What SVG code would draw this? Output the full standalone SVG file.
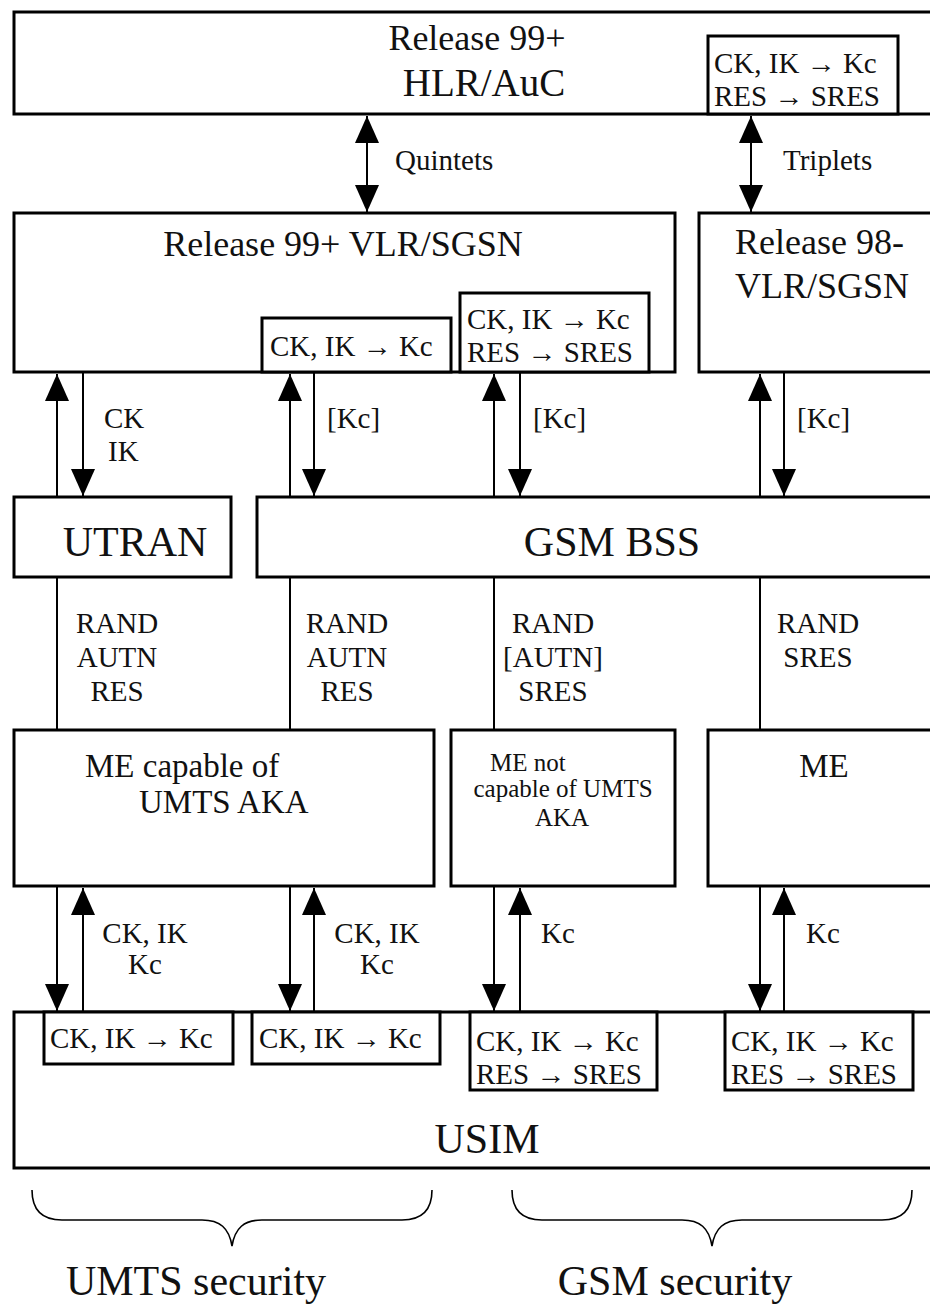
<svg xmlns="http://www.w3.org/2000/svg" width="930" height="1305" viewBox="0 0 930 1305">
<style>
.box{fill:#fff;stroke:#000;stroke-width:3}
.ln{stroke:#000;stroke-width:2;fill:none}
.br{stroke:#000;stroke-width:1.6;fill:none}
text{font-family:"Liberation Serif","Times New Roman",serif;fill:#111}
.t29{font-size:29px}
.t26{font-size:25px}
.t36{font-size:36px}
.t42{font-size:42px}
.m{text-anchor:middle}
.ar{font-weight:bold}
</style>
<defs>
<marker id="ah" markerUnits="userSpaceOnUse" markerWidth="28" markerHeight="26" refX="27" refY="12" orient="auto-start-reverse" viewBox="0 0 28 26">
<path d="M0,0 L27,12 L0,24 z" fill="#000"/>
</marker>
</defs>
<rect width="930" height="1305" fill="#fff"/>

<g id="hlr">
<rect class="box" x="14" y="12" width="930" height="102"/>
<text class="t36 m" x="477" y="50">Release 99+</text>
<text class="t42 m" x="484" y="96" style="font-size:39px">HLR/AuC</text>
</g>
<g id="hlr-conv">
<rect class="box" x="708" y="36" width="190" height="78"/>
<text class="t29" x="714" y="73">CK, IK <tspan class="ar">→</tspan> Kc</text>
<text class="t29" x="714" y="106">RES <tspan class="ar">→</tspan> SRES</text>
</g>

<g id="vlr99">
<rect class="box" x="14" y="213" width="661" height="159"/>
<text class="t36 m" x="343" y="256">Release 99+ VLR/SGSN</text>
</g>
<g id="vlr99-conv1">
<rect class="box" x="262" y="318" width="189" height="54"/>
<text class="t29" x="270" y="356">CK, IK <tspan class="ar">→</tspan> Kc</text>
</g>
<g id="vlr99-conv2">
<rect class="box" x="460" y="293" width="189" height="79"/>
<text class="t29" x="467" y="329">CK, IK <tspan class="ar">→</tspan> Kc</text>
<text class="t29" x="467" y="362">RES <tspan class="ar">→</tspan> SRES</text>
</g>
<g id="vlr98">
<rect class="box" x="699" y="213" width="250" height="159"/>
<text class="t36" x="735" y="254">Release 98-</text>
<text class="t36" x="735" y="298">VLR/SGSN</text>
</g>

<g id="utran">
<rect class="box" x="14" y="497" width="217" height="80"/>
<text class="t42 m" x="135" y="556">UTRAN</text>
</g>
<g id="bss">
<rect class="box" x="257" y="497" width="690" height="80"/>
<text class="t42 m" x="612" y="556">GSM BSS</text>
</g>

<g id="me-umts">
<rect class="box" x="14" y="730" width="420" height="156"/>
<text class="t36" x="85" y="777" style="font-size:33px">ME capable of</text>
<text class="t36" x="139" y="813" style="font-size:33px">UMTS AKA</text>
</g>
<g id="me-not">
<rect class="box" x="451" y="730" width="224" height="156"/>
<text class="t26" x="490" y="771">ME  not</text>
<text class="t26 m" x="563" y="797">capable of UMTS</text>
<text class="t26 m" x="562" y="826">AKA</text>
</g>
<g id="me">
<rect class="box" x="708" y="730" width="240" height="156"/>
<text class="t36 m" x="824" y="777" style="font-size:33px">ME</text>
</g>

<g id="usim">
<rect class="box" x="14" y="1012" width="934" height="156"/>
<text class="t42 m" x="487" y="1153">USIM</text>
</g>
<g id="usim-conv1">
<rect class="box" x="44" y="1012" width="189" height="52"/>
<text class="t29" x="50" y="1048">CK, IK <tspan class="ar">→</tspan> Kc</text>
</g>
<g id="usim-conv2">
<rect class="box" x="252" y="1012" width="188" height="52"/>
<text class="t29" x="259" y="1048">CK, IK <tspan class="ar">→</tspan> Kc</text>
</g>
<g id="usim-conv3">
<rect class="box" x="470" y="1012" width="187" height="78"/>
<text class="t29" x="476" y="1051">CK, IK <tspan class="ar">→</tspan> Kc</text>
<text class="t29" x="476" y="1084">RES <tspan class="ar">→</tspan> SRES</text>
</g>
<g id="usim-conv4">
<rect class="box" x="725" y="1012" width="188" height="78"/>
<text class="t29" x="731" y="1051">CK, IK <tspan class="ar">→</tspan> Kc</text>
<text class="t29" x="731" y="1084">RES <tspan class="ar">→</tspan> SRES</text>
</g>

<g id="connectors">
<line class="ln" x1="367" y1="116" x2="367" y2="212" marker-start="url(#ah)" marker-end="url(#ah)"/>
<line class="ln" x1="751" y1="116" x2="751" y2="212" marker-start="url(#ah)" marker-end="url(#ah)"/>

<line class="ln" x1="57" y1="497" x2="57" y2="374" marker-end="url(#ah)"/>
<line class="ln" x1="83" y1="372" x2="83" y2="496" marker-end="url(#ah)"/>
<line class="ln" x1="290" y1="497" x2="290" y2="374" marker-end="url(#ah)"/>
<line class="ln" x1="314" y1="372" x2="314" y2="496" marker-end="url(#ah)"/>
<line class="ln" x1="494" y1="497" x2="494" y2="374" marker-end="url(#ah)"/>
<line class="ln" x1="520" y1="372" x2="520" y2="496" marker-end="url(#ah)"/>
<line class="ln" x1="760" y1="497" x2="760" y2="374" marker-end="url(#ah)"/>
<line class="ln" x1="784" y1="372" x2="784" y2="496" marker-end="url(#ah)"/>

<line class="ln" x1="57" y1="577" x2="57" y2="730"/>
<line class="ln" x1="290" y1="577" x2="290" y2="730"/>
<line class="ln" x1="494" y1="577" x2="494" y2="730"/>
<line class="ln" x1="760" y1="577" x2="760" y2="730"/>

<line class="ln" x1="57" y1="886" x2="57" y2="1011" marker-end="url(#ah)"/>
<line class="ln" x1="83" y1="1012" x2="83" y2="888" marker-end="url(#ah)"/>
<line class="ln" x1="290" y1="886" x2="290" y2="1011" marker-end="url(#ah)"/>
<line class="ln" x1="314" y1="1012" x2="314" y2="888" marker-end="url(#ah)"/>
<line class="ln" x1="494" y1="886" x2="494" y2="1011" marker-end="url(#ah)"/>
<line class="ln" x1="520" y1="1012" x2="520" y2="888" marker-end="url(#ah)"/>
<line class="ln" x1="760" y1="886" x2="760" y2="1011" marker-end="url(#ah)"/>
<line class="ln" x1="784" y1="1012" x2="784" y2="888" marker-end="url(#ah)"/>
</g>

<g id="labels">
<text class="t29" x="395" y="170">Quintets</text>
<text class="t29" x="783" y="170">Triplets</text>
<text class="t29" x="104" y="428">CK</text>
<text class="t29" x="108" y="461">IK</text>
<text class="t29" x="327" y="428">[Kc]</text>
<text class="t29" x="533" y="428">[Kc]</text>
<text class="t29" x="797" y="428">[Kc]</text>

<text class="t29 m" x="117" y="633">RAND</text>
<text class="t29 m" x="117" y="667">AUTN</text>
<text class="t29 m" x="117" y="701">RES</text>
<text class="t29 m" x="347" y="633">RAND</text>
<text class="t29 m" x="347" y="667">AUTN</text>
<text class="t29 m" x="347" y="701">RES</text>
<text class="t29 m" x="553" y="633">RAND</text>
<text class="t29 m" x="553" y="667">[AUTN]</text>
<text class="t29 m" x="553" y="701">SRES</text>
<text class="t29 m" x="818" y="633">RAND</text>
<text class="t29 m" x="818" y="667">SRES</text>

<text class="t29 m" x="145" y="943">CK, IK</text>
<text class="t29 m" x="145" y="974">Kc</text>
<text class="t29 m" x="377" y="943">CK, IK</text>
<text class="t29 m" x="377" y="974">Kc</text>
<text class="t29" x="541" y="943">Kc</text>
<text class="t29" x="806" y="943">Kc</text>
</g>

<g id="braces">
<path class="br" d="M32,1190 C32,1210 42,1220 62,1220 L202,1220 C220,1220 229,1228 232,1246 C235,1228 244,1220 262,1220 L402,1220 C422,1220 432,1210 432,1190"/>
<path class="br" d="M512,1190 C512,1210 522,1220 542,1220 L682,1220 C700,1220 709,1228 712,1246 C715,1228 724,1220 742,1220 L882,1220 C902,1220 912,1210 912,1190"/>
<text class="t42 m" x="196" y="1295">UMTS security</text>
<text class="t42 m" x="675" y="1295">GSM security</text>
</g>
</svg>
